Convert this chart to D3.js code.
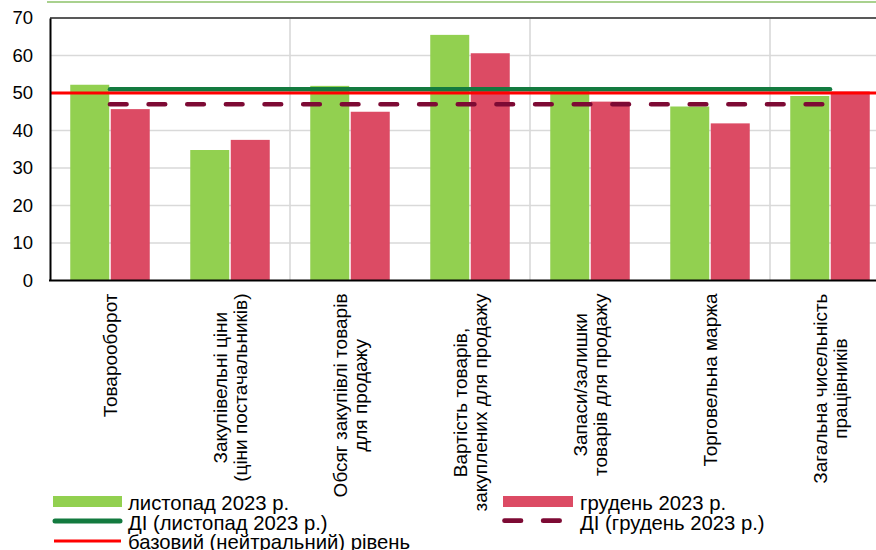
<!DOCTYPE html>
<html><head><meta charset="utf-8">
<script src="https://cdn.jsdelivr.net/npm/d3@7"></script>
<style>
html,body{margin:0;padding:0;background:#fff;}
svg{display:block;font-family:"Liberation Sans",Arial,sans-serif;}
</style></head>
<body>
<svg id="chart" width="876" height="550"></svg>
<script>
// ---- data ----
const categories = ["Товарооборот","Закупівельні ціни","Обсяг закупівлі","Вартість товарів","Запаси/залишки","Торговельна маржа","Загальна чисельність"];
const categoryLabels = [
  ["Товарооборот"],
  ["Закупівельні ціни","(ціни постачальників)"],
  ["Обсяг закупівлі товарів","для продажу"],
  ["Вартість товарів,","закуплених для продажу"],
  ["Запаси/залишки","товарів для продажу"],
  ["Торговельна маржа"],
  ["Загальна чисельність","працівників"]
];
const novValues = [52.2, 34.8, 51.9, 65.5, 50.6, 46.4, 49.2];
const decValues = [45.7, 37.5, 45.0, 60.6, 47.7, 41.9, 50.4];
const diNov = [51.0, 51.0, 51.0, 51.0, 51.0, 51.0, 51.0];
const diDec = [47.0, 47.0, 47.0, 47.0, 47.0, 47.0, 47.0];
const neutralLevel = 50;
const yTicks = [0, 10, 20, 30, 40, 50, 60, 70];
const seriesNames = ["листопад 2023 р.","грудень 2023 р."];
const legendNames = ["листопад 2023 р.","грудень 2023 р.","ДІ (листопад 2023 р.)","ДІ (грудень 2023 р.)","базовий (нейтральний) рівень"];

// ---- styles ----
const C = {nov:"#92d050", dec:"#dc4b64", diNov:"#137a3f", diDec:"#7d0a34", neutral:"#ff0000", grid:"#d9d9d9"};
const W = 876, H = 550;
const svg = d3.select("#chart");
svg.append("rect").attr("width",W).attr("height",H).attr("fill","#fff");

const pLeft = 50, pTop = 18, pBottom = 280.5, pRight = 890;
const x0 = d3.scaleBand().domain(categories).range([pLeft, pRight]).padding(0);
const x1 = d3.scaleBand().domain(seriesNames).range([0, x0.bandwidth()]).paddingInner(0.037).paddingOuter(0.5);
const y = d3.scaleLinear().domain([0, 70]).range([pBottom, pTop]);

// top decorative line
svg.append("line").attr("x1",47).attr("x2",W).attr("y1",2).attr("y2",2)
  .attr("stroke","#a9d18e").attr("stroke-width",2);

// horizontal grid
svg.append("g").selectAll("line").data(yTicks.filter(t => t > 0 && t < 70)).join("line")
  .attr("x1",pLeft).attr("x2",pRight).attr("y1",d=>y(d)).attr("y2",d=>y(d))
  .attr("stroke",C.grid).attr("stroke-width",1.6);
// vertical grid every two categories
svg.append("g").selectAll("line").data(categories.filter((c,i)=> i>0 && i%2===0)).join("line")
  .attr("x1",d=>x0(d)).attr("x2",d=>x0(d)).attr("y1",pTop).attr("y2",pBottom)
  .attr("stroke",C.grid).attr("stroke-width",1.6);
// top border
svg.append("line").attr("x1",pLeft).attr("x2",W).attr("y1",pTop).attr("y2",pTop)
  .attr("stroke","#595959").attr("stroke-width",1.8);

// bars
const groups = svg.append("g").selectAll("g").data(categories).join("g")
  .attr("transform", d => `translate(${x0(d)},0)`);
groups.selectAll("rect").data((d,i) => [
    {s:seriesNames[0], v:novValues[i], c:C.nov},
    {s:seriesNames[1], v:decValues[i], c:C.dec}])
  .join("rect")
  .attr("x", d => x1(d.s)).attr("width", x1.bandwidth())
  .attr("y", d => y(d.v)).attr("height", d => y(0) - y(d.v))
  .attr("fill", d => d.c);

// lines
const cx = (i) => x0(categories[i]) + x0.bandwidth()/2;
const line = d3.line().x((d,i)=>cx(i)).y(d=>y(d));
svg.append("path").datum(diNov).attr("d", line).attr("fill","none")
  .attr("stroke",C.diNov).attr("stroke-width",4.5).attr("stroke-linecap","round");
svg.append("path").datum(diDec).attr("d", line).attr("fill","none")
  .attr("stroke",C.diDec).attr("stroke-width",4.7).attr("stroke-linecap","round")
  .attr("stroke-dasharray","16.5,22.15");
svg.append("line").attr("x1",pLeft).attr("x2",pRight).attr("y1",y(neutralLevel)).attr("y2",y(neutralLevel))
  .attr("stroke",C.neutral).attr("stroke-width",3);

// axes
const yAxis = d3.axisLeft(y).tickValues(yTicks).tickSize(0).tickPadding(17).tickFormat(d3.format("d"));
const gy = svg.append("g").attr("transform",`translate(${pLeft},0)`).call(yAxis);
gy.select(".domain").attr("stroke","#000").attr("stroke-width",2);
gy.selectAll("text").attr("font-size",18.5).attr("fill","#000").attr("font-family","Liberation Sans, Arial, sans-serif");
svg.append("line").attr("x1",pLeft-1).attr("x2",W).attr("y1",y(0)).attr("y2",y(0))
  .attr("stroke","#000").attr("stroke-width",2);

// category labels (rotated)
const labelTop = 293.5;
categories.forEach((c,i) => {
  const lines = categoryLabels[i];
  const g = svg.append("g").attr("transform",`translate(${cx(i)},${labelTop}) rotate(-90)`);
  const texts = g.selectAll("text").data(lines).join("text")
    .attr("font-size",19).attr("fill","#000").attr("text-anchor","middle")
    .attr("y",(d,j)=> (j - (lines.length-1)/2)*20.5 + 6.8)
    .text(d=>d);
  let maxW = 0;
  texts.each(function(){ maxW = Math.max(maxW, this.getComputedTextLength()); });
  texts.attr("x", -maxW/2);
});

// legend
const lg = svg.append("g").attr("font-size",20.3).attr("fill","#000");
function legText(x, yb, t){ lg.append("text").attr("x",x).attr("y",yb).text(t); }
lg.append("rect").attr("x",53).attr("y",496).attr("width",69).attr("height",11).attr("fill",C.nov);
legText(128, 510, legendNames[0]);
lg.append("line").attr("x1",55).attr("x2",120).attr("y1",521).attr("y2",521)
  .attr("stroke",C.diNov).attr("stroke-width",5).attr("stroke-linecap","round");
legText(128, 530, legendNames[2]);
lg.append("line").attr("x1",54).attr("x2",121).attr("y1",541).attr("y2",541)
  .attr("stroke",C.neutral).attr("stroke-width",3);
legText(128, 549, legendNames[4]);

lg.append("rect").attr("x",503).attr("y",496).attr("width",70).attr("height",11).attr("fill",C.dec);
legText(580, 510, legendNames[1]);
lg.append("line").attr("x1",504.5).attr("x2",571).attr("y1",520.7).attr("y2",520.7)
  .attr("stroke",C.diDec).attr("stroke-width",4.7).attr("stroke-linecap","round")
  .attr("stroke-dasharray","16.5,22.15");
legText(580, 530, legendNames[3]);
</script>
</body></html>
